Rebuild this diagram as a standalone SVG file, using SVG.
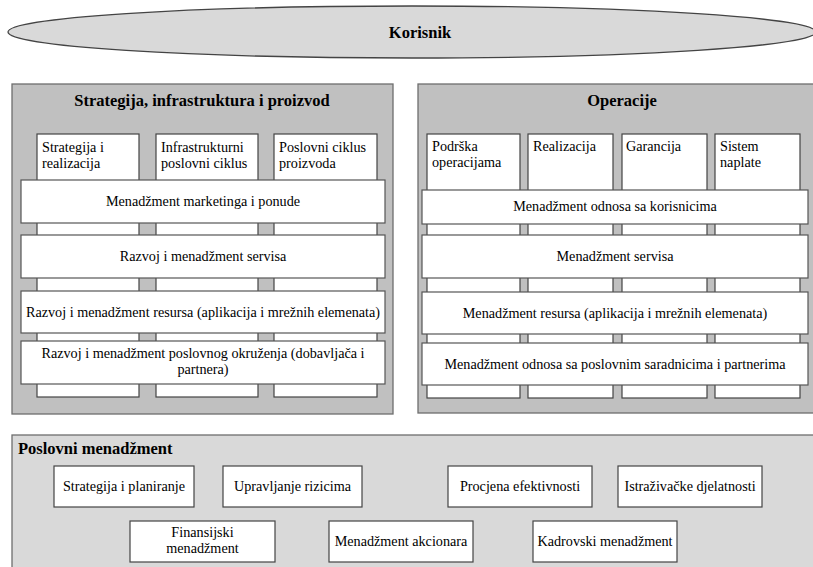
<svg xmlns="http://www.w3.org/2000/svg" width="813" height="567" viewBox="0 0 813 567" font-family="'Liberation Serif', 'Times New Roman', serif">
<style>
text{font-family:'Liberation Serif','Times New Roman',serif;fill:#000}
.t{font-size:14.2px}
.c{text-anchor:middle}
.h{font-size:16.5px;font-weight:bold}
.panel{fill:#c0c0c0;stroke:#6e6e6e;stroke-width:1.3}
.panel2{fill:#d9d9d9;stroke:#6e6e6e;stroke-width:1.3}
.box{fill:#fff;stroke:#444;stroke-width:1.2}
.band{fill:#fff;stroke:#555;stroke-width:1.2}
</style>
<rect width="813" height="567" fill="#fff"/>
<g id="korisnik">
<ellipse cx="412" cy="32" rx="404" ry="26" fill="#d9d9d9" stroke="#444" stroke-width="1.3"/>
<text class="h c" x="420" y="38">Korisnik</text>
</g>
<g id="sip">
<rect class="panel" x="12" y="84" width="381" height="330"/>
<text class="h c" x="202" y="106">Strategija, infrastruktura i proizvod</text>
<g id="sip-col1"><rect class="box" x="37" y="134" width="102" height="263"/><text class="t" x="42" y="152">Strategija i</text><text class="t" x="42" y="168">realizacija</text></g>
<g id="sip-col2"><rect class="box" x="156" y="134" width="102" height="263"/><text class="t" x="161" y="152">Infrastrukturni</text><text class="t" x="161" y="168">poslovni ciklus</text></g>
<g id="sip-col3"><rect class="box" x="274" y="134" width="103" height="263"/><text class="t" x="279" y="152">Poslovni ciklus</text><text class="t" x="279" y="168">proizvoda</text></g>
<g id="sip-band1"><rect class="band" x="21" y="180" width="364" height="43"/><text class="t c" x="203" y="206">Menadžment marketinga i ponude</text></g>
<g id="sip-band2"><rect class="band" x="21" y="235" width="364" height="43"/><text class="t c" x="203" y="261">Razvoj i menadžment servisa</text></g>
<g id="sip-band3"><rect class="band" x="21" y="291" width="364" height="42"/><text class="t c" x="203" y="317">Razvoj i menadžment resursa (aplikacija i mrežnih elemenata)</text></g>
<g id="sip-band4"><rect class="band" x="21" y="341" width="364" height="43"/><text class="t c" x="203" y="358">Razvoj i menadžment poslovnog okruženja (dobavljača i</text><text class="t c" x="203" y="374">partnera)</text></g>
</g>
<g id="operacije">
<rect class="panel" x="418" y="84" width="400" height="329"/>
<text class="h c" x="622" y="106">Operacije</text>
<g id="op-col1"><rect class="box" x="427" y="134" width="93" height="264"/><text class="t" x="432" y="151">Podrška</text><text class="t" x="432" y="167">operacijama</text></g>
<g id="op-col2"><rect class="box" x="528" y="134" width="85" height="264"/><text class="t" x="533" y="151">Realizacija</text></g>
<g id="op-col3"><rect class="box" x="622" y="134" width="85" height="264"/><text class="t" x="626" y="151">Garancija</text></g>
<g id="op-col4"><rect class="box" x="715" y="134" width="85" height="264"/><text class="t" x="720" y="151">Sistem</text><text class="t" x="720" y="167">naplate</text></g>
<g id="op-band1"><rect class="band" x="422" y="190" width="386" height="34"/><text class="t c" x="615" y="211">Menadžment odnosa sa korisnicima</text></g>
<g id="op-band2"><rect class="band" x="422" y="235" width="386" height="43"/><text class="t c" x="615" y="261">Menadžment servisa</text></g>
<g id="op-band3"><rect class="band" x="422" y="292" width="386" height="42"/><text class="t c" x="615" y="318">Menadžment resursa (aplikacija i mrežnih elemenata)</text></g>
<g id="op-band4"><rect class="band" x="422" y="343" width="386" height="42"/><text class="t c" x="615" y="369">Menadžment odnosa sa poslovnim saradnicima i partnerima</text></g>
</g>
<g id="poslovni">
<rect class="panel2" x="12" y="435" width="806" height="140"/>
<text class="h" x="18" y="454">Poslovni menadžment</text>
<g id="pm1"><rect class="box" x="54" y="466" width="140" height="41"/><text class="t c" x="124" y="491">Strategija i planiranje</text></g>
<g id="pm2"><rect class="box" x="223" y="466" width="139" height="41"/><text class="t c" x="292.5" y="491">Upravljanje rizicima</text></g>
<g id="pm3"><rect class="box" x="448" y="466" width="144" height="41"/><text class="t c" x="520" y="491">Procjena efektivnosti</text></g>
<g id="pm4"><rect class="box" x="618" y="466" width="144" height="41"/><text class="t c" x="690" y="491">Istraživačke djelatnosti</text></g>
<g id="pm5"><rect class="box" x="130" y="521" width="145" height="41"/><text class="t c" x="202.5" y="537">Finansijski</text><text class="t c" x="202.5" y="553">menadžment</text></g>
<g id="pm6"><rect class="box" x="329" y="521" width="144" height="41"/><text class="t c" x="401" y="546">Menadžment akcionara</text></g>
<g id="pm7"><rect class="box" x="533" y="521" width="144" height="41"/><text class="t c" x="605" y="546">Kadrovski menadžment</text></g>
</g>
<g id="connectors"></g>
</svg>
